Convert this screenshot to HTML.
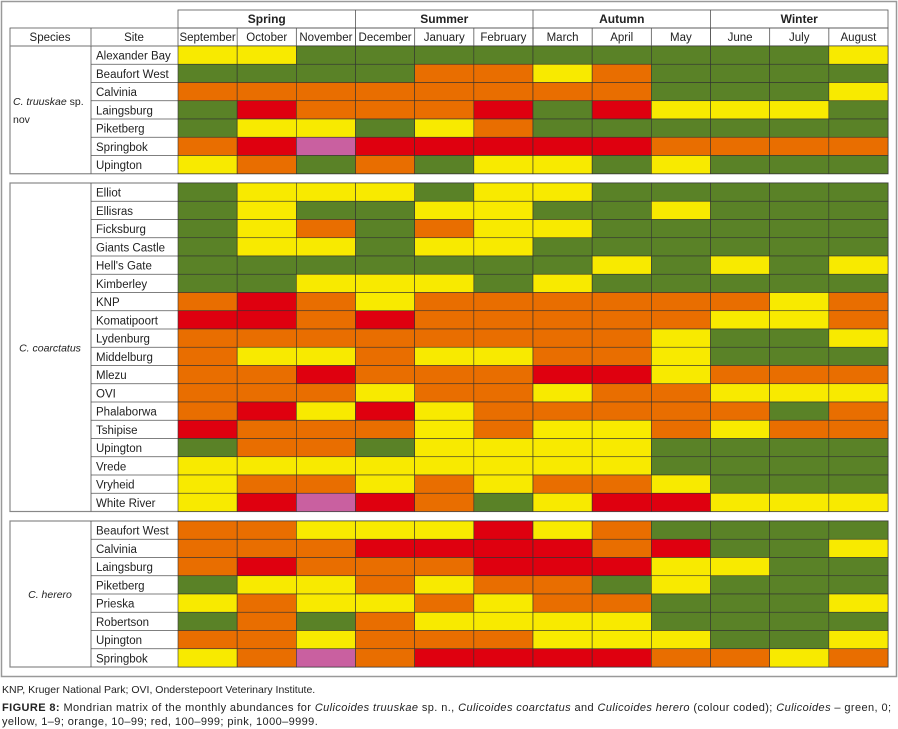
<!DOCTYPE html>
<html><head><meta charset="utf-8"><style>
body{margin:0;background:#fff;width:898px;height:729px;overflow:hidden;font-family:"Liberation Sans",sans-serif}
svg{position:absolute;left:0;top:0}
.cap{position:absolute;left:2px;color:#222;line-height:14px;white-space:nowrap}
</style></head><body>
<svg id="chart" width="898" height="680"></svg>
<div class="cap" style="top:683px;font-size:10.5px">KNP, Kruger National Park; OVI, Onderstepoort Veterinary Institute.</div>
<div class="cap" style="top:701px;font-size:11px;letter-spacing:0.4px"><b>FIGURE 8:</b> Mondrian matrix of the monthly abundances for <i>Culicoides truuskae</i> sp. n., <i>Culicoides coarctatus</i> and <i>Culicoides herero</i> (colour coded); <i>Culicoides</i> – green, 0;<br>yellow, 1–9; orange, 10–99; red, 100–999; pink, 1000–9999.</div>
<script>
const seasons=["Spring","Summer","Autumn","Winter"];
const months=["September","October","November","December","January","February","March","April","May","June","July","August"];
const species=["C. truuskae sp. nov","C. coarctatus","C. herero"];
const sites1=["Alexander Bay","Beaufort West","Calvinia","Laingsburg","Piketberg","Springbok","Upington"];
const vals1=["YYGGGGGGGGGY","GGGGOOYOGGGG","OOOOOOOOGGGY","GROOORGRYYYG","GYYGYOGGGGGG","ORPRRRRROOOO","YOGOGYYGYGGG"];
const sites2=["Elliot","Ellisras","Ficksburg","Giants Castle","Hell's Gate","Kimberley","KNP","Komatipoort","Lydenburg","Middelburg","Mlezu","OVI","Phalaborwa","Tshipise","Upington","Vrede","Vryheid","White River"];
const vals2=["GYYYGYYGGGGG","GYGGYYGGYGGG","GYOGOYYGGGGG","GYYGYYGGGGGG","GGGGGGGYGYGY","GGYYYGYGGGGG","OROYOOOOOOYO","RROROOOOOYYO","OOOOOOOOYGGY","OYYOYYOOYGGG","OOROOORRYOOO","OOOYOOYOOYYY","ORYRYOOOOOGO","ROOOYOYYOYOO","GOOGYYYYGGGG","YYYYYYYYGGGG","YOOYOYOOYGGG","YRPROGYRRYYY"];
const sites3=["Beaufort West","Calvinia","Laingsburg","Piketberg","Prieska","Robertson","Upington","Springbok"];
const vals3=["OOYYYRYOGGGG","OOORRRRORGGY","OROOORRRYYGG","GYYOYOOGYGGG","YOYYOYOOGGGY","GOGOYYYYGGGG","OOYOOOYYYGGY","YOPORRRROOYO"];
const colors={G:"#5a8227",Y:"#f8ea00",O:"#e96e00",R:"#df000f",P:"#c960a0"};
const svg=document.getElementById('chart');
const NS="http://www.w3.org/2000/svg";
function mk(t,a,txt){const e=document.createElementNS(NS,t);for(const k in a)e.setAttribute(k,a[k]);if(txt!=null)e.textContent=txt;svg.appendChild(e);return e;}
const X0=178,CW=(888-178)/12,RH=18.25;
function colX(i){return X0+i*CW;}
let f=mk('rect',{x:1.5,y:1.5,width:895,height:675,fill:'none',stroke:'#999','stroke-width':1.5});

let hb=mk('rect',{x:X0,y:10,width:710,height:18,fill:'none',stroke:'#555','stroke-width':0.8});

seasons.forEach((s,i)=>{const x=colX(i*3);
 if(i>0)mk('line',{x1:x,y1:10,x2:x,y2:46,stroke:'#555','stroke-width':0.8});
 const t=mk('text',{x:x+CW*1.5,y:23,'text-anchor':'middle','font-size':12,'font-weight':'bold',fill:'#222'},s);
 });
let hr=mk('rect',{x:10,y:28,width:878,height:18,fill:'none',stroke:'#555','stroke-width':0.8});

mk('line',{x1:91,y1:28,x2:91,y2:46,stroke:'#555','stroke-width':0.8});
mk('line',{x1:X0,y1:28,x2:X0,y2:46,stroke:'#555','stroke-width':0.8});
let h1=mk('text',{x:50,y:41,'text-anchor':'middle','font-size':11.5,fill:'#222'},'Species');

let h2=mk('text',{x:134,y:41,'text-anchor':'middle','font-size':11.5,fill:'#222'},'Site');

months.forEach((m,i)=>{if(i>0)mk('line',{x1:colX(i),y1:28,x2:colX(i),y2:46,stroke:'#555','stroke-width':0.8});
 const t=mk('text',{x:colX(i)+CW/2,y:41,'text-anchor':'middle','font-size':11.5,fill:'#222'},m);
 if(m.length>8){t.setAttribute('textLength',CW-3);t.setAttribute('lengthAdjust','spacingAndGlyphs');}
 });
function group(y0,sp,sites,vals,gi){
 const h=sites.length*RH;
 const sx=mk('rect',{x:10,y:y0,width:878,height:h,fill:'#fff',stroke:'#888','stroke-width':1.2});
 
 mk('line',{x1:91,y1:y0,x2:91,y2:y0+h,stroke:'#555','stroke-width':0.8});
 let lines=gi==0?["C. truuskae sp.","nov"]:[sp];
 lines.forEach((l,k)=>{const t=mk('text',{x:gi==0?13:50,y:y0+h/2+4+(k-(lines.length-1)/2)*18,'text-anchor':gi==0?'start':'middle','font-size':10.5,fill:'#222'});
  if(gi==0&&k==0){t.innerHTML='<tspan font-style="italic">C. truuskae</tspan> sp.';}
  else if(gi==0){t.textContent=l;}else{t.textContent=l;t.setAttribute('font-style','italic');}
  });
 sites.forEach((s,r)=>{const y=y0+r*RH;
  if(r>0)mk('line',{x1:91,y1:y,x2:X0,y2:y,stroke:'#555','stroke-width':0.8});
  const t=mk('text',{x:96,y:y+13.5,'font-size':11.5,fill:'#222'},s);
  
  vals[r].split('').forEach((c,i)=>{const e=mk('rect',{x:colX(i),y:y,width:CW,height:RH,fill:colors[c],stroke:'#333','stroke-width':0.6});
   
   });
 });
}
group(46,species[0],sites1,vals1,0);
group(183,species[1],sites2,vals2,1);
group(521,species[2],sites3,vals3,2);
</script>
</body></html>
